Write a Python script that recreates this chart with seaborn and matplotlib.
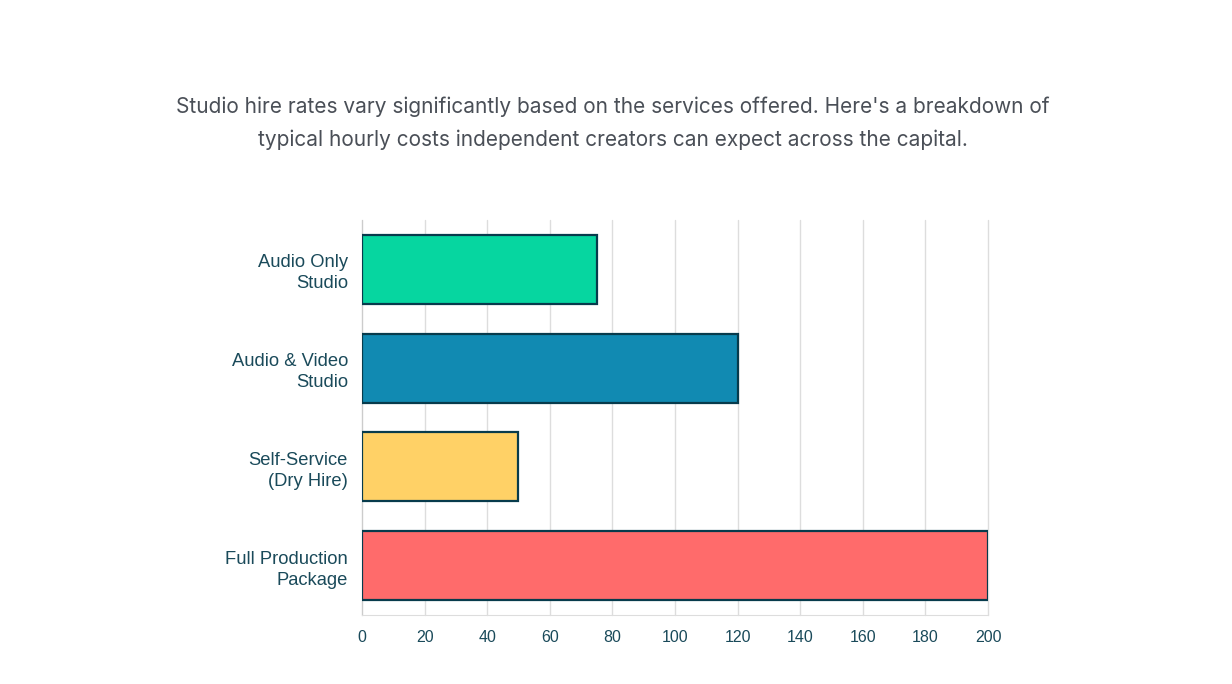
import pandas as pd
import matplotlib
matplotlib.use("Agg")
import matplotlib.pyplot as plt
import seaborn as sns

# data
services = ["Audio Only\nStudio", "Audio & Video\nStudio", "Self-Service\n(Dry Hire)", "Full Production\nPackage"]
hourly_rate = [75, 120, 50, 200]
bar_colors = ["#06D6A0", "#118AB2", "#FFD166", "#FF6B6B"]
x_ticks = [0, 20, 40, 60, 80, 100, 120, 140, 160, 180, 200]

df = pd.DataFrame({"service": services, "rate": hourly_rate})

sns.set_style("white")
plt.rcParams["font.family"] = ["Liberation Sans", "DejaVu Sans"]

fig = plt.figure(figsize=(12.32, 6.84), dpi=100)
ax = fig.add_axes([0.2938, 0.1009, 0.802 - 0.2938, 0.6784 - 0.1009])

sns.barplot(data=df, x="rate", y="service", hue="service", palette=bar_colors,
            legend=False, width=0.7, edgecolor="#073B4C", linewidth=1.6,
            saturation=1, ax=ax, zorder=3)

ax.set_xlim(0, 200)
ax.set_ylim(3.5, -0.5)
ax.set_xticks(x_ticks)
ax.grid(axis="x", color="#dddddd", linewidth=1, zorder=0)
for gl in ax.get_xgridlines():
    gl.set_clip_on(False)
ax.set_xlabel("")
ax.set_ylabel("")
for s in ["top", "right"]:
    ax.spines[s].set_visible(False)
ax.spines["left"].set_color("#cccccc")
ax.spines["bottom"].set_color("#dddddd")
ax.tick_params(axis="x", colors="#dddddd", labelcolor="#1a4a5a", labelsize=11.5, length=6, width=1, pad=5)
ax.tick_params(axis="y", labelcolor="#1a4a5a", labelsize=13.2, length=0, pad=10)
for lab in ax.get_yticklabels():
    lab.set_horizontalalignment("right")
    lab.set_linespacing(1.3)

fig.text(0.4975, 0.82,
         "Studio hire rates vary significantly based on the services offered. Here's a breakdown of\n"
         "typical hourly costs independent creators can expect across the capital.",
         ha="center", va="center", fontsize=15, color="#4a4f57", family=["Inter", "DejaVu Sans"],
         linespacing=1.75)

fig.savefig("out.png", dpi=100, facecolor="white")
